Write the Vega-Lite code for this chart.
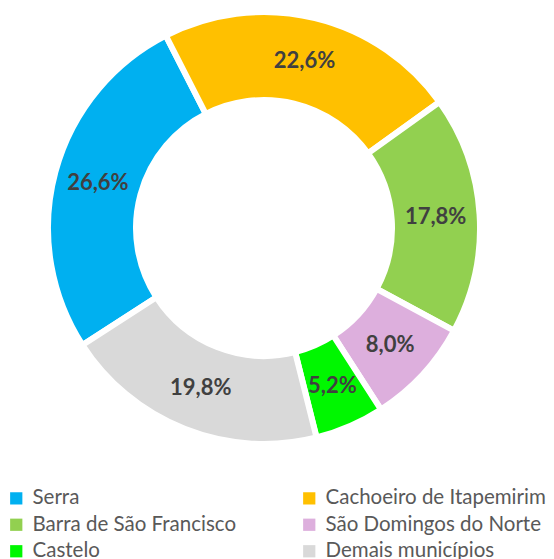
{
 "$schema": "https://vega.github.io/schema/vega-lite/v6.json",
 "width": 528, "height": 456, "padding": 0,
 "background": "white",
 "config": {"view": {"stroke": null}},
 "data": {"values": [
  {"idx":1,"municipio":"Serra","pct":26.6,"label":"26,6%"},
  {"idx":2,"municipio":"Cachoeiro de Itapemirim","pct":22.6,"label":"22,6%"},
  {"idx":3,"municipio":"Barra de São Francisco","pct":17.8,"label":"17,8%"},
  {"idx":4,"municipio":"São Domingos do Norte","pct":8.0,"label":"8,0%"},
  {"idx":5,"municipio":"Castelo","pct":5.2,"label":"5,2%"},
  {"idx":6,"municipio":"Demais municípios","pct":19.8,"label":"19,8%"}
 ]},
 "encoding": {
  "theta": {"field":"pct","type":"quantitative","stack":true,"scale":{"range":[4.140,10.423]}},
  "order": {"field":"idx","type":"quantitative"}
 },
 "layer":[
  {"mark":{"type":"arc","innerRadius":128,"outerRadius":216,"stroke":"white","strokeWidth":6},
   "encoding":{"color":{"field":"municipio","type":"nominal",
     "scale":{"domain":["Serra","Cachoeiro de Itapemirim","Barra de São Francisco","São Domingos do Norte","Castelo","Demais municípios"],
              "range":["#00B0F0","#FFC000","#92D050","#DDAFDD","#00F700","#D9D9D9"]},
     "legend":{"title":null,"orient":"none","legendX":6,"legendY":488,"direction":"horizontal","columns":2,"symbolType":"square","symbolSize":150,"symbolStrokeWidth":0,
       "labelFontSize":20.5,"labelFont":"Lato","labelColor":"#595959","labelOffset":6,"columnPadding":62,"rowPadding":5.5,"labelLimit":400}}}},
  {"mark":{"type":"text","radius":172,"fontSize":22,"fontWeight":"bold","font":"Lato","fill":"#404040"},
   "encoding":{"text":{"field":"label"}}}
 ]
}
